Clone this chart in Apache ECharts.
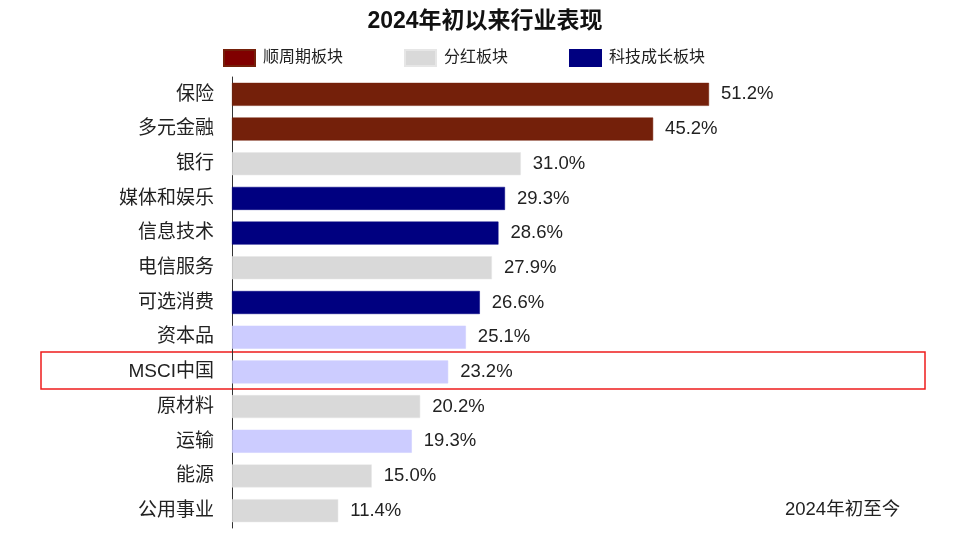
<!DOCTYPE html>
<html>
<head>
<meta charset="utf-8">
<script src="https://cdn.jsdelivr.net/npm/echarts@6/dist/echarts.min.js"></script>
<style>
  html, body { margin: 0; padding: 0; background: #fff; }
  #chart { width: 960px; height: 547px; }
</style>
</head>
<body>
<div id="chart"></div>
<script>
let categories = ["保险", "多元金融", "银行", "媒体和娱乐", "信息技术", "电信服务", "可选消费", "资本品", "MSCI中国", "原材料", "运输", "能源", "公用事业"];
let values = [51.2, 45.2, 31.0, 29.3, 28.6, 27.9, 26.6, 25.1, 23.2, 20.2, 19.3, 15.0, 11.4];
// which group each category belongs to (index into groupNames)
let groups = [0, 0, 1, 2, 2, 1, 2, 3, 3, 1, 3, 1, 1];
let groupNames = ["顺周期板块", "分红板块", "科技成长板块", "其他"];
let colors = ["#74200a", "#d9d9d9", "#000080", "#ccccff"];
let legendColors = ["#800000", "#d9d9d9", "#000080"];

let font = "Liberation Sans, Noto Sans CJK SC, sans-serif";
let chart = echarts.init(document.getElementById("chart"));

let series = groupNames.map((name, g) => ({
  name: name,
  type: "bar",
  stack: "all",
  barWidth: 23,
  itemStyle: { color: colors[g], borderColor: g === 1 ? "#e6e6e6" : colors[g], borderWidth: 0.5 },
  data: values.map((v, i) => (groups[i] === g ? v : "-")),
  label: {
    show: true,
    position: "right",
    distance: 12,
    color: "#222",
    fontSize: 18.5,
    fontFamily: font,
    formatter: (p) => p.value.toFixed(1) + "%",
  },
}));

chart.setOption({
  animation: false,
  color: legendColors,
  title: {
    text: "2024年初以来行业表现",
    left: 480,
    textAlign: "center",
    top: 5,
    textStyle: { fontSize: 23, fontWeight: "bold", color: "#111", fontFamily: font },
  },
  legend: {
    data: groupNames.slice(0, 3).map((n, i) => ({ name: n, itemStyle: { color: legendColors[i] } })),
    left: 218,
    top: 44,
    itemWidth: 31,
    itemHeight: 16,
    itemGap: 61,
    icon: "rect",
    textStyle: { fontSize: 16, color: "#222", fontFamily: font, padding: [0, 0, 0, 3] },
  },
  grid: { left: 232, right: 169, top: 77, bottom: 19 },
  xAxis: {
    type: "value",
    min: 0,
    max: 60,
    show: false,
  },
  yAxis: {
    type: "category",
    inverse: true,
    data: categories,
    axisTick: { show: false },
    axisLine: { lineStyle: { color: "#333", width: 1 } },
    axisLabel: { fontSize: 19, color: "#222", margin: 18, fontFamily: font },
  },
  series: series,
  graphic: [
    {
      type: "rect",
      shape: { x: 41, y: 352, width: 884, height: 37 },
      style: { fill: "none", stroke: "#ee1c1c", lineWidth: 1.5 },
    },
    {
      type: "text",
      left: 785,
      top: 501,
      style: { text: "2024年初至今", fontSize: 18.5, fill: "#222", fontFamily: font },
    },
  ],
});
</script>
</body>
</html>
